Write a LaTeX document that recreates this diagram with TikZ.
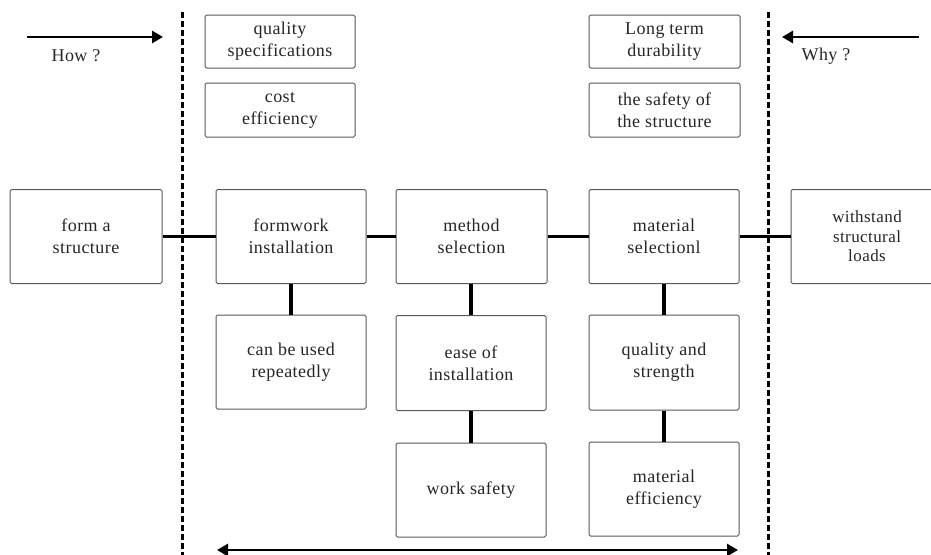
\documentclass[tikz,border=0pt]{standalone}
\usepackage{fontspec}
\setmainfont{Liberation Serif}[LetterSpace=2.5]
\usetikzlibrary{arrows.meta}
\begin{document}
\begin{tikzpicture}[x=1pt,y=-1pt,
  box/.style={draw=black!65,line width=1pt,rounded corners=1.5pt,fill=white,
    align=center,text=black!85,inner sep=0pt,
    font=\fontsize{18}{22}\selectfont},
  link/.style={line width=3.2pt,black},
  divider/.style={line width=3pt,black,dash pattern=on 6pt off 3pt},
  pointer/.style={line width=2.8pt,black,-{Triangle[length=11pt,width=12pt]}},
  lbl/.style={text=black!85,font=\fontsize{18}{22}\selectfont}]
\useasboundingbox (0,0) rectangle (931,554);
\fill[white] (0,0) rectangle (931,554);

% How / Why sides
\draw[divider] (182,12) -- (182,560);
\draw[divider] (768,12) -- (768,560);
\coordinate (howS) at (27,37);
\coordinate (howE) at (163,37);
\coordinate (whyS) at (919,37);
\coordinate (whyE) at (782,37);
\draw[pointer] (howS) -- (howE);
\draw[pointer] (whyS) -- (whyE);
\node[lbl] (how) at (76,56) {How ?};
\node[lbl] (why) at (826,56) {Why ?};

% upper criteria
\node[box,minimum width=150pt,minimum height=53pt] (qs) at (280,41.5) {quality\\specifications};
\node[box,minimum width=150pt,minimum height=54pt] (ce) at (280,110) {cost\\efficiency};
\node[box,minimum width=151pt,minimum height=53pt] (ltd) at (664.5,41.5) {Long term\\durability};
\node[box,minimum width=151pt,minimum height=54pt] (sos) at (664.5,110) {the safety of\\the structure};

% main chain
\node[box,minimum width=152pt,minimum height=94pt] (fas) at (86,236.5) {form a\\structure};
\node[box,minimum width=150pt,minimum height=94pt] (fi) at (291,236.5) {formwork\\installation};
\node[box,minimum width=151pt,minimum height=94pt] (ms) at (471.5,236.5) {method\\selection};
\node[box,minimum width=150pt,minimum height=94pt] (msel) at (664,236.5) {material\\selectionl};
\node[box,minimum width=152pt,minimum height=94pt,
  font=\fontsize{17}{19.5}\selectfont] (ws) at (867,236.5) {withstand\\structural\\loads};

% lower branches
\node[box,minimum width=150pt,minimum height=94pt] (cbu) at (291,362) {can be used\\repeatedly};
\node[box,minimum width=150pt,minimum height=95pt] (eoi) at (471,363) {ease of\\installation};
\node[box,minimum width=150pt,minimum height=94pt] (wsf) at (471,490) {work safety};
\node[box,minimum width=150pt,minimum height=95pt] (qas) at (664,362.5) {quality and\\strength};
\node[box,minimum width=150pt,minimum height=94pt] (me) at (664,489) {material\\efficiency};

% connectors
\draw[link] (fas.east) -- (fi.west);
\draw[link] (fi.east) -- (ms.west);
\draw[link] (ms.east) -- (msel.west);
\draw[link] (msel.east) -- (ws.west);
\draw[link] (fi.south) -- (cbu.north);
\draw[link] (ms.south -| eoi.north) -- (eoi.north);
\draw[link] (eoi.south) -- (wsf.north);
\draw[link] (msel.south) -- (qas.north);
\draw[link] (qas.south) -- (me.north);

% bottom span arrow
\coordinate (spanL) at (217,550);
\coordinate (spanR) at (738,550);
\draw[line width=2.8pt,black,{Triangle[length=11pt,width=12pt]}-{Triangle[length=11pt,width=12pt]}] (spanL) -- (spanR);
\end{tikzpicture}
\end{document}
